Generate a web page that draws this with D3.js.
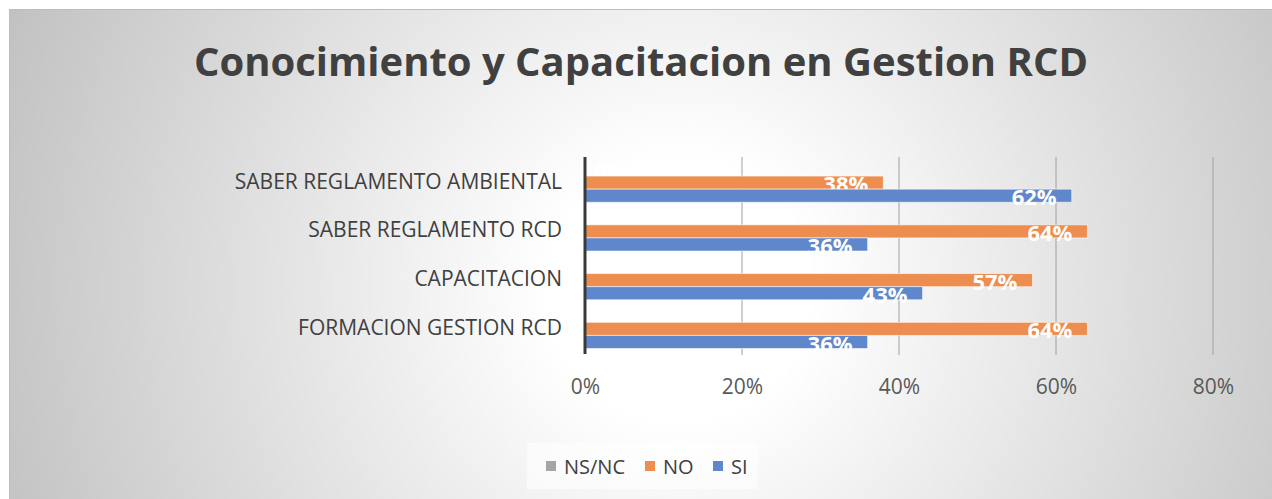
<!DOCTYPE html>
<html>
<head>
<meta charset="utf-8">
<script src="https://cdn.jsdelivr.net/npm/d3@7"></script>
<style>
  body { margin: 0; background: #ffffff; }
  svg { display: block; }
</style>
</head>
<body>
<svg id="chart" width="1272" height="499"></svg>
<script>
// chart data
var categories = ['SABER REGLAMENTO AMBIENTAL', 'SABER REGLAMENTO RCD', 'CAPACITACION', 'FORMACION GESTION RCD'];
var seriesNames = ['NS/NC', 'NO', 'SI'];
var nsnc = [0, 0, 0, 0];
var no = [0.38, 0.64, 0.57, 0.64];
var si = [0.62, 0.36, 0.43, 0.36];
var ticks = [0, 0.2, 0.4, 0.6, 0.8];
var colors = ['#a5a5a5', '#ed8d4f', '#5f87cc'];

var seriesValues = [nsnc, no, si];

var svg = d3.select('#chart');
var W = 1272, H = 499;

// background with radial gradient
var defs = svg.append('defs');
var grad = defs.append('radialGradient')
	.attr('id', 'bg')
	.attr('gradientUnits', 'userSpaceOnUse')
	.attr('cx', 680).attr('cy', 290).attr('r', 720);
grad.append('stop').attr('offset', 0).attr('stop-color', '#ffffff');
grad.append('stop').attr('offset', 0.18).attr('stop-color', '#ffffff');
grad.append('stop').attr('offset', 1).attr('stop-color', '#c2c2c2');

svg.append('rect')
	.attr('x', 9.5).attr('y', 9.5)
	.attr('width', W).attr('height', H)
	.attr('fill', 'url(#bg)')
	.attr('stroke', '#bdbdbd');

// title
svg.append('text')
	.attr('x', 641).attr('y', 76)
	.attr('text-anchor', 'middle')
	.style('font-family', 'Open Sans')
	.style('font-weight', 700)
	.style('font-size', '40px')
	.style('fill', '#404040')
	.text('Conocimiento y Capacitacion en Gestion RCD');

var plotLeft = 585, plotRight = 1213, plotTop = 157, plotBottom = 352;

var x = d3.scaleLinear().domain([0, 0.8]).range([plotLeft, plotRight]);
var y = d3.scaleBand().domain(categories).range([plotTop, plotBottom]);
var inner = d3.scaleBand().domain(seriesNames).range([6, y.bandwidth() - 3.5]);

// gridlines
svg.append('g')
	.selectAll('line')
	.data(ticks.slice(1))
	.join('line')
	.attr('x1', function (d) { return x(d); })
	.attr('x2', function (d) { return x(d); })
	.attr('y1', plotTop)
	.attr('y2', plotBottom + 3)
	.attr('stroke', '#a0a0a0')
	.attr('stroke-width', 1);

// x axis tick labels
var xAxis = d3.axisBottom(x)
	.tickValues(ticks)
	.tickFormat(d3.format('.0%'))
	.tickSize(0)
	.tickPadding(0);
var gx = svg.append('g')
	.attr('transform', 'translate(0,' + 394 + ')')
	.call(xAxis);
gx.select('.domain').remove();
gx.selectAll('text')
	.attr('dy', 0)
	.style('font-family', 'Open Sans')
	.style('font-size', '21px')
	.style('fill', '#595959');

// category labels
var yAxis = d3.axisLeft(y).tickSize(0).tickPadding(0);
var gy = svg.append('g')
	.attr('transform', 'translate(562,0)')
	.call(yAxis);
gy.select('.domain').remove();
gy.selectAll('text')
	.attr('dy', '0.35em')
	.style('font-family', 'Open Sans')
	.style('font-size', '21px')
	.style('fill', '#404040');

// bars and labels, one series at a time so later bars cover earlier labels
seriesNames.forEach(function (name, s) {
	var vals = seriesValues[s];
	var g = svg.append('g');
	g.selectAll('rect')
		.data(vals)
		.join('rect')
		.attr('x', x(0))
		.attr('y', function (d, i) { return y(categories[i]) + inner(name); })
		.attr('width', function (d) { return x(d) - x(0); })
		.attr('height', inner.bandwidth())
		.attr('fill', colors[s])
		.attr('stroke', 'rgba(255,255,255,0.55)')
		.attr('stroke-width', 1);
	g.selectAll('text')
		.data(vals)
		.join('text')
		.attr('x', function (d) { return d > 0 ? x(d) - 15 : x(0) + 42; })
		.attr('y', function (d, i) { return y(categories[i]) + inner(name) + inner.bandwidth() + 3; })
		.attr('text-anchor', 'end')
		.style('font-family', 'Open Sans')
		.style('font-weight', 700)
		.style('font-size', '22px')
		.style('fill', '#ffffff')
		.text(function (d) { return d3.format('.0%')(d); });
});

// vertical axis line
svg.append('line')
	.attr('x1', plotLeft).attr('x2', plotLeft)
	.attr('y1', plotTop).attr('y2', plotBottom + 2)
	.attr('stroke', '#3a3a3a')
	.attr('stroke-width', 3);

// legend
var legend = svg.append('g');
legend.append('rect')
	.attr('x', 527).attr('y', 443)
	.attr('width', 231).attr('height', 46)
	.attr('fill', 'rgba(255,255,255,0.55)');
var legendX = [546, 645, 713];
seriesNames.forEach(function (name, s) {
	legend.append('rect')
		.attr('x', legendX[s]).attr('y', 461)
		.attr('width', 10).attr('height', 10)
		.attr('fill', colors[s]);
	legend.append('text')
		.attr('x', legendX[s] + 18).attr('y', 474)
		.style('font-family', 'Open Sans')
		.style('font-size', '20px')
		.style('fill', '#404040')
		.text(name);
});
</script>
</body>
</html>
